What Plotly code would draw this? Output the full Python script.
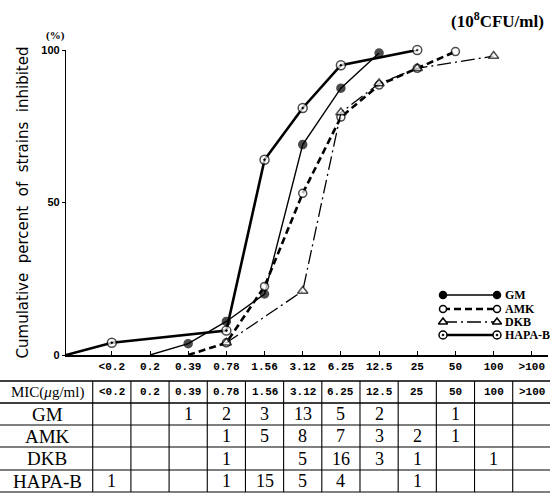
import plotly.graph_objects as go

# ---------------- data ----------------
categories = ["<0.2", "0.2", "0.39", "0.78", "1.56", "3.12", "6.25", "12.5", "25", "50", "100", ">100"]
series_names = ["GM", "AMK", "DKB", "HAPA-B"]

# cumulative percent of strains inhibited; None = no point
gm_pct = [None, 0, 3.7, 11, 20, 69, 87.5, 99, None, None, None, None]
amk_pct = [None, None, 0, 4, 22.5, 53, 78, 88.5, 94, 99.5, None, None]
dkb_pct = [None, None, None, 4, None, 21, 79.5, 89, 94, None, 98, None]
hapa_pct = [4, None, None, 8, 64, 81, 95, None, 100, None, None, None]
hapa_origin_pct = 0  # HAPA-B curve starts at the axis origin

# first point of GM / AMK (value 0) is drawn without a marker
gm_start = "0.2"
amk_start = "0.39"

# MIC distribution table (number of strains)
gm_counts = [None, None, 1, 2, 3, 13, 5, 2, None, 1, None, None]
amk_counts = [None, None, None, 1, 5, 8, 7, 3, 2, 1, None, None]
dkb_counts = [None, None, None, 1, None, 5, 16, 3, 1, None, 1, None]
hapa_counts = [1, None, None, 1, 15, 5, 4, None, 1, None, None, None]

y_ticks = [0, 50, 100]

# ---------------- layout geometry ----------------
W, H = 550, 493
L, R, T, B = 66, 548, 50, 355
XMIN = -1.2
XMAX = XMIN + (R - L) / 38.18
LEG_TOP, LEG_BOT = 286, 344


def px(xp):
    return (xp - L) / (R - L)


def py(yp):
    return (B - yp) / (B - T)


def dx2paper(xv):
    return (xv - XMIN) / (XMAX - XMIN)


xs = list(range(len(categories)))
serif = "Liberation Serif"
mono = "Liberation Mono"

fig = go.Figure()


def series_xy(vals, start_cat=None, origin=None):
    x, y, sizes = [], [], []
    if origin is not None:
        x.append(XMIN)
        y.append(origin)
        sizes.append(0)
    for c, v in zip(categories, vals):
        if v is None:
            continue
        x.append(categories.index(c))
        y.append(v)
        sizes.append(0 if c == start_cat else 1)
    return x, y, sizes


styles = {
    "GM": dict(dash="solid", width=1.4, symbol="circle", color="black", size=8),
    "AMK": dict(dash="7px,4px", width=2.6, symbol="circle", color="white", size=8),
    "DKB": dict(dash="14px,4px,2px,4px", width=1.3, symbol="triangle-up", color="white", size=9),
    "HAPA-B": dict(dash="solid", width=2.6, symbol="circle-dot", color="white", size=9),
}

data_sets = [
    ("GM", series_xy(gm_pct, gm_start)),
    ("AMK", series_xy(amk_pct, amk_start)),
    ("DKB", series_xy(dkb_pct)),
    ("HAPA-B", series_xy(hapa_pct, origin=hapa_origin_pct)),
]

for name, (x, y, sz) in data_sets:
    s = styles[name]
    fig.add_trace(go.Scatter(
        x=x, y=y, mode="lines+markers", name=name, showlegend=False,
        line=dict(color="black", width=s["width"], dash=s["dash"]),
        marker=dict(symbol=s["symbol"], color=s["color"],
                    size=[s["size"] * k for k in sz],
                    line=dict(color="black", width=1.5)),
        cliponaxis=False,
    ))

# ---------------- custom legend (inset axes) ----------------
legend_rows = [295, 309, 322, 335]
for name, yrow in zip(series_names, legend_rows):
    s = styles[name]
    fig.add_trace(go.Scatter(
        x=[0, 1], y=[yrow, yrow], xaxis="x2", yaxis="y2", mode="lines+markers",
        showlegend=False, hoverinfo="skip",
        line=dict(color="black", width=s["width"], dash=s["dash"]),
        marker=dict(symbol=s["symbol"], color=s["color"], size=s["size"] - 1,
                    line=dict(color="black", width=1.5)),
        cliponaxis=False,
    ))

annotations = []
for name, yrow in zip(series_names, legend_rows):
    annotations.append(dict(
        x=px(503), y=py(yrow), xref="paper", yref="paper", text="<b>%s</b>" % name,
        showarrow=False, xanchor="left", yanchor="middle",
        font=dict(family=serif, size=12, color="black")))

# title / units
annotations.append(dict(
    x=px(546), y=py(20), xref="paper", yref="paper",
    text="<b>(10<sup>8</sup>CFU/ml)</b>", showarrow=False, xanchor="right", yanchor="middle",
    font=dict(family=serif, size=17, color="black")))
annotations.append(dict(
    x=px(55), y=py(36), xref="paper", yref="paper", text="<b>(%)</b>",
    showarrow=False, xanchor="center", yanchor="middle",
    font=dict(family=serif, size=11, color="black")))

# ---------------- table ----------------
row_lines = [381, 403, 425, 447, 470, 492]
row_centers = [(a + b) / 2 for a, b in zip(row_lines[:-1], row_lines[1:])]
label_x = px(47)

annotations.append(dict(
    x=label_x, y=py(row_centers[0]), xref="paper", yref="paper",
    text="MIC(<i>μ</i>g/ml)", showarrow=False, xanchor="center", yanchor="middle",
    font=dict(family=serif, size=15, color="black")))
for c in categories:
    annotations.append(dict(
        x=categories.index(c), y=py(row_centers[0]), xref="x", yref="paper",
        text="<b>%s</b>" % c, showarrow=False, xanchor="center", yanchor="middle",
        font=dict(family=mono, size=11, color="black")))

count_rows = [gm_counts, amk_counts, dkb_counts, hapa_counts]
for r, (name, counts) in enumerate(zip(series_names, count_rows)):
    yc = py(row_centers[r + 1])
    annotations.append(dict(
        x=label_x, y=yc, xref="paper", yref="paper", text=name,
        showarrow=False, xanchor="center", yanchor="middle",
        font=dict(family=serif, size=19, color="black")))
    for c, v in zip(categories, counts):
        if v is None:
            continue
        annotations.append(dict(
            x=categories.index(c), y=yc, xref="x", yref="paper", text=str(v),
            showarrow=False, xanchor="center", yanchor="middle",
            font=dict(family=serif, size=18, color="black")))

shapes = []
for i, yl in enumerate(row_lines):
    shapes.append(dict(type="line", xref="paper", yref="paper",
                       x0=px(0), x1=px(550), y0=py(yl), y1=py(yl),
                       line=dict(color="black", width=1.6 if i < 2 else 1.1)))
for k in range(-1, len(categories) - 1):
    xb = dx2paper(k + 0.5)
    shapes.append(dict(type="line", xref="paper", yref="paper",
                       x0=xb, x1=xb, y0=py(row_lines[0]), y1=py(row_lines[-1]),
                       line=dict(color="black", width=1.1)))

fig.update_layout(
    width=W, height=H,
    margin=dict(l=L, r=W - R, t=T, b=H - B, pad=0),
    paper_bgcolor="white", plot_bgcolor="rgba(0,0,0,0)",
    showlegend=False,
    xaxis=dict(
        range=[XMIN, XMAX], tickmode="array", tickvals=xs,
        ticktext=["<b>%s</b>" % c for c in categories],
        showline=True, linecolor="black", linewidth=1.5,
        ticks="inside", ticklen=4, tickcolor="black", tickwidth=1.2,
        showgrid=False, zeroline=False,
        tickfont=dict(family=mono, size=11, color="black"),
    ),
    yaxis=dict(
        range=[0, 100], tickmode="array", tickvals=y_ticks,
        ticktext=["<b>%d</b>" % v for v in y_ticks],
        showline=True, linecolor="black", linewidth=1.3,
        ticks="outside", ticklen=3, tickcolor="black",
        showgrid=False, zeroline=False,
        tickfont=dict(family="Liberation Sans Narrow, Liberation Sans", size=11, color="black"),
        title=dict(text="Cumulative  percent  of  strains  inhibited",
                   font=dict(family="DejaVu Sans", size=15, color="black"), standoff=9),
    ),
    xaxis2=dict(domain=[px(443), px(497)], range=[0, 1], visible=False, anchor="y2"),
    yaxis2=dict(domain=[py(LEG_BOT), py(LEG_TOP)], range=[LEG_BOT, LEG_TOP],
                visible=False, anchor="x2"),
    annotations=annotations,
    shapes=shapes,
)

fig.write_html(
    "out.html",
    config={"displayModeBar": False},
    post_script="document.body.style.margin='0px';document.body.style.overflow='hidden';",
)
